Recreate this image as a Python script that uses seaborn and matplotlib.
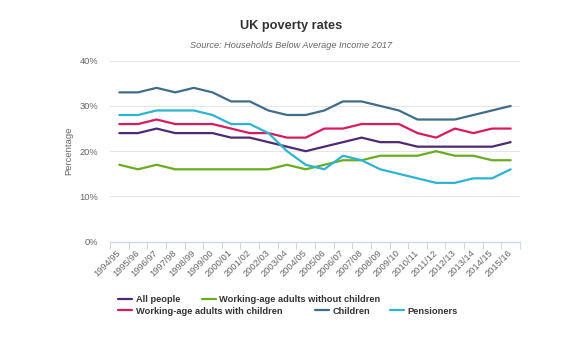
import numpy as np
import pandas as pd
import matplotlib
matplotlib.use("Agg")
import matplotlib.pyplot as plt
from matplotlib.lines import Line2D
import seaborn as sns

# Financial years on the x axis
years = ["1994/95", "1995/96", "1996/97", "1997/98", "1998/99", "1999/00",
         "2000/01", "2001/02", "2002/03", "2003/04", "2004/05", "2005/06",
         "2006/07", "2007/08", "2008/09", "2009/10", "2010/11", "2011/12",
         "2012/13", "2013/14", "2014/15", "2015/16"]

# Share of each group in relative poverty (%)
all_people = [24, 24, 25, 24, 24, 24, 23, 23, 22, 21, 20, 21, 22, 23, 22, 22, 21, 21, 21, 21, 21, 22]
wa_without_children = [17, 16, 17, 16, 16, 16, 16, 16, 16, 17, 16, 17, 18, 18, 19, 19, 19, 20, 19, 19, 18, 18]
wa_with_children = [26, 26, 27, 26, 26, 26, 25, 24, 24, 23, 23, 25, 25, 26, 26, 26, 24, 23, 25, 24, 25, 25]
children = [33, 33, 34, 33, 34, 33, 31, 31, 29, 28, 28, 29, 31, 31, 30, 29, 27, 27, 27, 28, 29, 30]
pensioners = [28, 28, 29, 29, 29, 28, 26, 26, 24, 20, 17, 16, 19, 18, 16, 15, 14, 13, 13, 14, 14, 16]

series_names = ["All people", "Working-age adults without children",
                "Working-age adults with children", "Children", "Pensioners"]
series_values = [all_people, wa_without_children, wa_with_children, children, pensioners]
series_colors = ["#4f2a72", "#68ad1f", "#d81b5c", "#3f6d8b", "#2db4d2"]

y_ticks = [0, 10, 20, 30, 40]
y_tick_labels = ["0%", "10%", "20%", "30%", "40%"]

rows = []
for name, vals in zip(series_names, series_values):
    for i, v in enumerate(vals):
        rows.append({"idx": i, "year": years[i], "group": name, "rate": v})
df = pd.DataFrame(rows)

sns.set_theme(style="white")
plt.rcParams["font.family"] = ["Liberation Sans", "DejaVu Sans"]

W, H = 582, 341
fig = plt.figure(figsize=(W / 100, H / 100), dpi=100)
left, right, top, bottom = 110, 520, 60.7, 241.7
ax = fig.add_axes([left / W, 1 - bottom / H, (right - left) / W, (bottom - top) / H])

palette = dict(zip(series_names, series_colors))
sns.lineplot(data=df, x="idx", y="rate", hue="group", hue_order=series_names,
             palette=palette, linewidth=1.6, sort=False, legend=False, ax=ax)

ax.set_xlim(-0.5, len(years) - 0.5)
ax.set_ylim(0, 40)
ax.set_xlabel("")
ax.set_ylabel("")

# y axis: percentage labels with light grid
ax.set_yticks(y_ticks)
ax.set_yticklabels(y_tick_labels)
ax.yaxis.grid(True, color="#e6e6e6", linewidth=0.75)
ax.xaxis.grid(False)
ax.tick_params(axis="y", length=0, pad=8.5, labelsize=6.7, labelcolor="#666666")

# x axis: category labels at centres, tick marks on boundaries
ax.set_xticks(np.arange(len(years)))
ax.set_xticklabels(years, rotation=45, ha="right", va="center", rotation_mode="anchor")
ax.set_xticks(np.arange(-0.5, len(years), 1), minor=True)
ax.tick_params(axis="x", which="major", length=0, pad=7, labelsize=6.7, labelcolor="#666666")
ax.tick_params(axis="x", which="minor", length=5, width=0.75, color="#ccd6eb", direction="out")
ax.tick_params(axis="x", which="minor", bottom=True)

for s in ["top", "right", "left"]:
    ax.spines[s].set_visible(False)
ax.spines["bottom"].set_color("#ccd6eb")
ax.spines["bottom"].set_linewidth(0.9)

fig.text(69 / W, 1 - 151 / H, "Percentage", rotation=90, ha="center", va="center",
         fontsize=6.8, color="#666666")

fig.text(0.5, 1 - 28.5 / H, "UK poverty rates", ha="center", va="baseline",
         fontsize=9.2, fontweight="bold", color="#333333")
fig.text(0.5, 1 - 47.5 / H, "Source: Households Below Average Income 2017", ha="center",
         va="baseline", fontsize=6.6, style="italic", color="#666666")

# Legend laid out in two flowing rows
legend_pos = [(118, 299.5), (201.7, 299.5), (118, 311), (315, 311), (390, 311)]
for name, color, (lx, ly) in zip(series_names, series_colors, legend_pos):
    h = Line2D([], [], color=color, linewidth=1.6)
    fig.legend([h], [name], loc="center left", bbox_to_anchor=(lx / W, 1 - ly / H),
               frameon=False, borderpad=0, borderaxespad=0, handlelength=1.5,
               handletextpad=0.4, prop={"size": 6.7, "weight": "bold"},
               labelcolor="#333333")

fig.savefig("out.png", dpi=100, facecolor="white")
